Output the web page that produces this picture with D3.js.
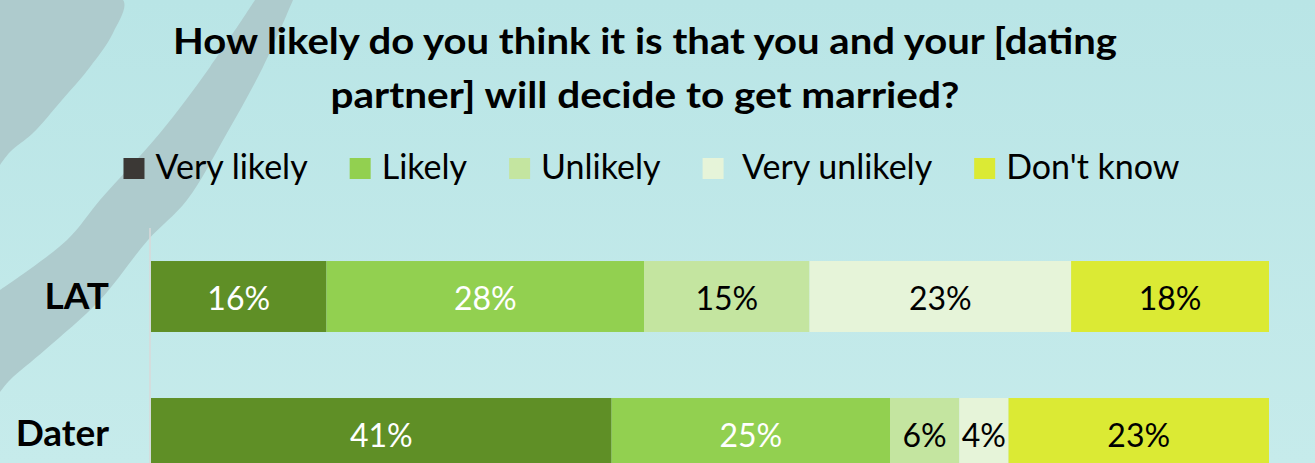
<!DOCTYPE html>
<html>
<head>
<meta charset="utf-8">
<script src="https://cdn.jsdelivr.net/npm/d3@7"></script>
<style>
  html, body { margin: 0; padding: 0; background: #bfe7e8; }
  svg { display: block; }
  text { font-family: Lato, "Open Sans", sans-serif; }
</style>
</head>
<body>
<svg id="chart" width="1315" height="463"></svg>
<script>
// ---- data ----
const titleLines = ["How likely do you think it is that you and your [dating", "partner] will decide to get married?"];
const categories = ["LAT", "Dater"];
const seriesNames = ["Very likely", "Likely", "Unlikely", " Very unlikely", "Don't know"];
const veryLikely   = [15.7, 41.2];
const likely       = [28.4, 24.9];
const unlikely     = [14.8, 6.2];
const veryUnlikely = [23.4, 4.4];
const dontKnow     = [17.7, 23.3];
const valueLabels = [
  ["16%", "28%", "15%", "23%", "18%"],
  ["41%", "25%", "6%", "4%", "23%"]
];
const barColors    = ["#5f8f26", "#92d050", "#c4e5a0", "#e6f4d9", "#dbea34"];
const legendColors = ["#3b3835", "#92d050", "#c4e5a0", "#e6f4d9", "#dbea34"];
const labelColors  = ["#ffffff", "#ffffff", "#000000", "#000000", "#000000"];

const seriesValues = [veryLikely, likely, unlikely, veryUnlikely, dontKnow];

const W = 1315, H = 463;
const svg = d3.select("#chart");

// ---- background ----
const defs = svg.append("defs");
const grad = defs.append("linearGradient").attr("id", "bg").attr("x1", 0).attr("y1", 0).attr("x2", 0).attr("y2", 1);
grad.append("stop").attr("offset", "0%").attr("stop-color", "#b9e5e6");
grad.append("stop").attr("offset", "100%").attr("stop-color", "#c6ebeb");
svg.append("rect").attr("width", W).attr("height", H).attr("fill", "url(#bg)");

// decorative grey swooshes
const swoosh = d3.line().curve(d3.curveCatmullRom);
const shape1 = [[0,0],[123,0],[113,33],[90,67],[62,100],[33,133],[10,152],[0,165]];
const shape2a = [[293,0],[263,67],[227,133],[187,200],[148,240],[100,300],[45,350],[10,380],[0,392]];
const shape2b = [[0,290],[67,240],[100,200],[160,133],[210,67],[255,0]];
svg.append("path").attr("d", swoosh(shape1) + "Z").attr("fill", "#aecbcd");
svg.append("path").attr("d", swoosh(shape2a) + swoosh(shape2b).replace("M", "L") + "Z").attr("fill", "#aecbcd");

// ---- title ----
const titleWidths = [944, 629];
svg.append("g").selectAll("text").data(titleLines).join("text")
  .attr("x", 645).attr("y", (d, i) => 54 + i * 54)
  .attr("text-anchor", "middle")
  .attr("font-weight", "bold").attr("font-size", 36).attr("fill", "#000")
  .attr("textLength", (d, i) => titleWidths[i]).attr("lengthAdjust", "spacingAndGlyphs")
  .text(d => d);

// ---- scales ----
const x = d3.scaleLinear().domain([0, 100]).range([151, 1269]);
const y = d3.scaleBand().domain(categories).range([228, 502]).paddingInner(0.482).paddingOuter(0.241);

// stacked data
const rows = categories.map((c, i) => {
  let acc = 0;
  return seriesNames.map((s, j) => {
    const v = seriesValues[j][i];
    const seg = { cat: c, series: j, x0: acc, x1: acc + v, label: valueLabels[i][j] };
    acc += v;
    return seg;
  });
}).flat();

// ---- axis line ----
svg.append("line").attr("x1", 150).attr("x2", 150).attr("y1", 228).attr("y2", H)
  .attr("stroke", "#d9d9d9").attr("stroke-width", 1.5);

// ---- bars ----
svg.append("g").selectAll("rect").data(rows).join("rect")
  .attr("x", d => x(d.x0)).attr("width", d => x(d.x1) - x(d.x0))
  .attr("y", d => y(d.cat)).attr("height", y.bandwidth())
  .attr("fill", d => barColors[d.series]);

svg.append("g").selectAll("text").data(rows).join("text")
  .attr("x", d => (x(d.x0) + x(d.x1)) / 2)
  .attr("y", d => y(d.cat) + y.bandwidth() / 2 + 13)
  .attr("text-anchor", "middle").attr("font-size", 32)
  .attr("fill", d => labelColors[d.series])
  .text(d => d.label);

// ---- category labels ----
svg.append("g").selectAll("text").data(categories).join("text")
  .attr("x", 109).attr("y", d => y(d) + y.bandwidth() / 2 + 12)
  .attr("text-anchor", "end").attr("font-weight", "bold").attr("font-size", 37)
  .attr("fill", "#000").text(d => d);

// ---- legend ----
const lg = svg.append("g");
const items = lg.selectAll("g").data(seriesNames).join("g");
items.append("rect").attr("width", 21).attr("height", 21).attr("y", 158)
  .attr("fill", (d, i) => legendColors[i]);
items.append("text").attr("x", 32).attr("y", 179).attr("font-size", 34)
  .style("white-space", "pre").attr("fill", "#000").text(d => d);
const widths = [];
items.each(function(d) {
  widths.push(32 + this.querySelector("text").getComputedTextLength());
});
const total = d3.sum(widths) + 42 * (widths.length - 1);
let start = 651.5 - total / 2;
items.attr("transform", (d, i) => {
  const t = `translate(${start},0)`;
  start += widths[i] + 42;
  return t;
});
</script>
</body>
</html>
